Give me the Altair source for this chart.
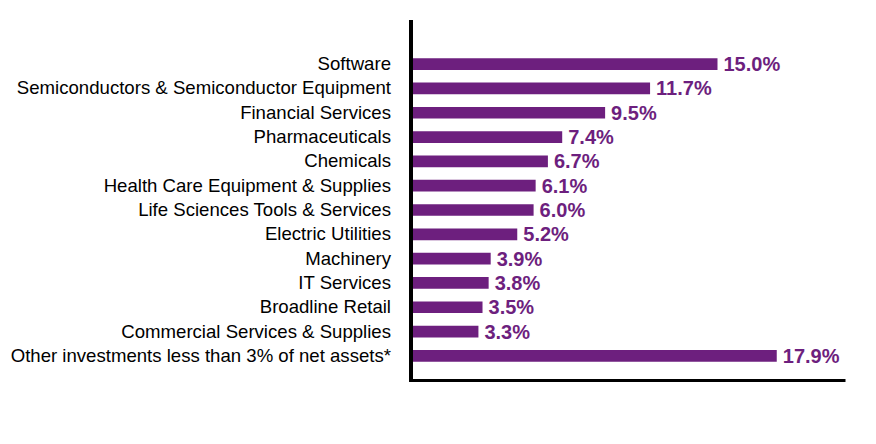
import altair as alt
import pandas as pd

categories = [
    "Software",
    "Semiconductors & Semiconductor Equipment",
    "Financial Services",
    "Pharmaceuticals",
    "Chemicals",
    "Health Care Equipment & Supplies",
    "Life Sciences Tools & Services",
    "Electric Utilities",
    "Machinery",
    "IT Services",
    "Broadline Retail",
    "Commercial Services & Supplies",
    "Other investments less than 3% of net assets*",
]
values = [15.0, 11.7, 9.5, 7.4, 6.7, 6.1, 6.0, 5.2, 3.9, 3.8, 3.5, 3.3, 17.9]
labels = [f"{v:.1f}%" for v in values]

df = pd.DataFrame({"category": categories, "value": values, "label": labels})

PURPLE = "#6D1F7E"
FONT = "Liberation Sans"
H = 360

y_scale = alt.Scale(paddingInner=0.52, paddingOuter=0, range=[38.3, 341.7])

y_enc = alt.Y(
    "category:N",
    sort=None,
    title=None,
    scale=y_scale,
    axis=alt.Axis(
        domain=False,
        ticks=False,
        labelFont=FONT,
        labelFontSize=18.6,
        labelColor="black",
        labelPadding=20.5,
        labelLimit=600,
    ),
)

x_enc = alt.X(
    "value:Q",
    title=None,
    scale=alt.Scale(domain=[0, 21.24], nice=False, zero=True),
    axis=alt.Axis(
        domain=True,
        domainColor="black",
        domainWidth=3,
        ticks=False,
        labels=False,
        grid=False,
    ),
)

bars = alt.Chart(df).mark_bar(color=PURPLE).encode(y=y_enc, x=x_enc)

text = alt.Chart(df).mark_text(
    align="left",
    baseline="middle",
    dx=6,
    dy=1,
    font=FONT,
    fontSize=20,
    fontWeight="bold",
    color=PURPLE,
).encode(y=alt.Y("category:N", sort=None), x=alt.X("value:Q"), text="label:N")

vline = alt.Chart(df).mark_rule(color="black", strokeWidth=3).encode(
    x=alt.value(0), y=alt.value(0), y2=alt.value(H + 1.5)
)

chart = (
    alt.layer(bars, text, vline)
    .properties(
        width=434,
        height=H,
        padding={"left": 2, "top": 10, "right": 5, "bottom": 5},
        background="white",
    )
    .configure_view(stroke=None)
)

chart.save("out.html", embed_options={"renderer": "svg", "actions": False})
